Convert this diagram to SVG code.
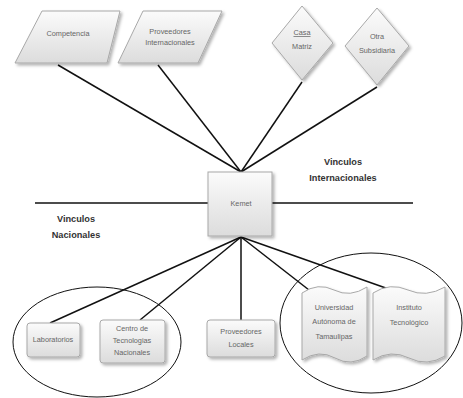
<svg xmlns="http://www.w3.org/2000/svg" width="463" height="398" viewBox="0 0 463 398">
<defs>
<linearGradient id="g" x1="0" y1="0" x2="0" y2="1">
<stop offset="0" stop-color="#fbfbfb"/>
<stop offset="1" stop-color="#dcdcdc"/>
</linearGradient>
<filter id="sh" x="-20%" y="-20%" width="150%" height="150%">
<feDropShadow dx="2" dy="2" stdDeviation="1.5" flood-color="#000" flood-opacity="0.3"/>
</filter>
</defs>
<style>
.s{fill:url(#g);stroke:#a8a8a8;stroke-width:1;filter:url(#sh)}
.t{font-family:"Liberation Sans",Arial,sans-serif;font-size:7.3px;fill:#666;text-anchor:middle}
.h{font-family:"Liberation Sans",Arial,sans-serif;font-size:9.2px;font-weight:bold;fill:#333;text-anchor:middle}
.c{stroke:#111;stroke-width:1.5;fill:none}
.e{stroke:#111;stroke-width:1;fill:none}
</style>
<rect width="463" height="398" fill="#fff"/>
<g id="connectors">
<line class="c" x1="58" y1="65" x2="241" y2="172"/>
<line class="c" x1="158" y1="65" x2="241" y2="172"/>
<line class="c" x1="302" y1="82" x2="241" y2="172"/>
<line class="c" x1="377" y1="87" x2="241" y2="172"/>
<line class="c" x1="35" y1="203" x2="208" y2="203"/>
<line class="c" x1="272" y1="203" x2="413" y2="203"/>
<line class="c" x1="241" y1="237" x2="50" y2="323"/>
<line class="c" x1="241" y1="237" x2="140" y2="320"/>
<line class="c" x1="241" y1="237" x2="241" y2="320"/>
<line class="c" x1="241" y1="237" x2="318" y2="297"/>
<line class="c" x1="241" y1="237" x2="400" y2="293"/>
</g>
<g id="competencia">
<polygon class="s" points="42,11 120,11 107,63 15,63"/>
<text class="t" x="68" y="36">Competencia</text>
</g>
<g id="proveedores-internacionales">
<polygon class="s" points="143,11 222,11 198,63 118,63"/>
<text class="t" x="170" y="34">Proveedores</text>
<text class="t" x="170" y="45">Internacionales</text>
</g>
<g id="casa-matriz">
<polygon class="s" points="302,6 333,43 302,80 272,43"/>
<text class="t" x="302" y="35" text-decoration="underline">Casa</text>
<text class="t" x="302" y="49">Matriz</text>
</g>
<g id="otra-subsidiaria">
<polygon class="s" points="377,8 409,46 377,85 345,46"/>
<text class="t" x="377" y="39">Otra</text>
<text class="t" x="377" y="53">Subsidiaria</text>
</g>
<g id="kemet">
<rect class="s" x="208" y="172" width="64" height="64"/>
<text class="t" x="241" y="206">Kemet</text>
</g>
<g id="label-internacionales">
<text class="h" x="343" y="165">Vinculos</text>
<text class="h" x="343" y="181">Internacionales</text>
</g>
<g id="label-nacionales">
<text class="h" x="76" y="222">Vinculos</text>
<text class="h" x="76" y="238">Nacionales</text>
</g>
<g id="grupo-nacional">
<ellipse class="e" cx="97" cy="342" rx="84" ry="55"/>
</g>
<g id="laboratorios">
<rect class="s" x="27" y="323" width="53" height="34" rx="3"/>
<text class="t" x="53" y="342">Laboratorios</text>
</g>
<g id="centro-tecnologias">
<rect class="s" x="100" y="320" width="65" height="43" rx="3"/>
<text class="t" x="132" y="331">Centro de</text>
<text class="t" x="132" y="343">Tecnologias</text>
<text class="t" x="132" y="355">Nacionales</text>
</g>
<g id="proveedores-locales">
<rect class="s" x="207" y="320" width="68" height="37" rx="3"/>
<text class="t" x="241" y="334">Proveedores</text>
<text class="t" x="241" y="347">Locales</text>
</g>
<g id="grupo-academico">
<ellipse class="e" cx="371" cy="323" rx="91" ry="70"/>
</g>
<g id="universidad">
<path class="s" d="M302,293 Q318,282 334,290 T367,287 L367,356 Q351,367 335,358 T302,360 Z"/>
<text class="t" x="334" y="310">Universidad</text>
<text class="t" x="334" y="324">Autónoma de</text>
<text class="t" x="334" y="339">Tamaulipas</text>
</g>
<g id="instituto">
<path class="s" d="M373,293 Q390,282 408,290 T445,287 L445,356 Q427,367 409,358 T373,360 Z"/>
<text class="t" x="409" y="310">Instituto</text>
<text class="t" x="409" y="325">Tecnológico</text>
</g>
</svg>
